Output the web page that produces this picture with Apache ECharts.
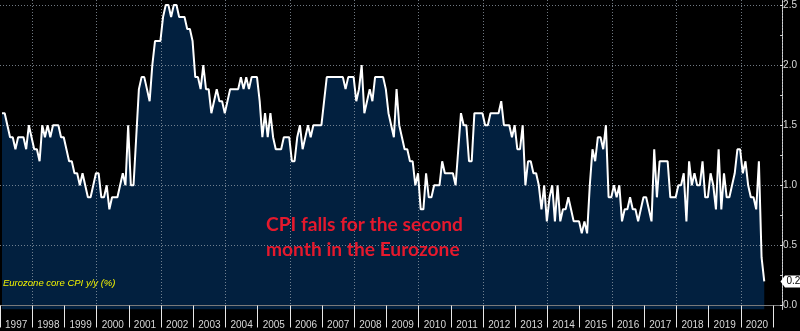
<!DOCTYPE html>
<html>
<head>
<meta charset="utf-8">
<script src="https://cdn.jsdelivr.net/npm/echarts@6/dist/echarts.min.js"></script>
<style>
html,body{margin:0;padding:0;background:#000;}
#chart{width:800px;height:331px;}
</style>
</head>
<body>
<div id="chart"></div>
<script>
// Eurozone core CPI y/y (%), monthly, starting January 1997
const firstYear = 1997;
const firstMonth = 1;
const coreCpi = [
  1.6, 1.6, 1.5, 1.4, 1.4, 1.3, 1.4, 1.4, 1.4, 1.3, 1.5, 1.4, // 1997
  1.3, 1.3, 1.2, 1.5, 1.4, 1.5, 1.4, 1.5, 1.5, 1.5, 1.4, 1.4, // 1998
  1.3, 1.2, 1.2, 1.1, 1.1, 1.0, 1.1, 1.0, 0.9, 0.9, 1.0, 1.1, // 1999
  1.1, 0.9, 0.9, 1.0, 0.8, 0.9, 0.9, 0.9, 1.0, 1.1, 1.0, 1.5, // 2000
  1.0, 1.0, 1.4, 1.8, 1.9, 1.9, 1.8, 1.7, 2.0, 2.2, 2.2, 2.2, // 2001
  2.4, 2.5, 2.5, 2.4, 2.5, 2.5, 2.4, 2.4, 2.4, 2.3, 2.3, 2.2, // 2002
  1.9, 1.9, 1.8, 2.0, 1.8, 1.8, 1.6, 1.7, 1.8, 1.7, 1.7, 1.6, // 2003
  1.7, 1.8, 1.8, 1.8, 1.8, 1.9, 1.8, 1.9, 1.8, 1.9, 1.9, 1.9, // 2004
  1.7, 1.4, 1.6, 1.4, 1.6, 1.4, 1.3, 1.3, 1.3, 1.4, 1.4, 1.4, // 2005
  1.2, 1.2, 1.4, 1.5, 1.3, 1.4, 1.5, 1.4, 1.5, 1.5, 1.5, 1.5, // 2006
  1.7, 1.9, 1.9, 1.9, 1.9, 1.9, 1.9, 1.9, 1.8, 1.9, 1.9, 1.9, // 2007
  1.7, 1.8, 2.0, 1.6, 1.7, 1.8, 1.7, 1.9, 1.9, 1.9, 1.9, 1.8, // 2008
  1.6, 1.5, 1.4, 1.8, 1.5, 1.4, 1.3, 1.3, 1.2, 1.2, 1.0, 1.1, // 2009
  0.8, 0.8, 1.1, 0.9, 0.9, 1.0, 1.0, 1.0, 1.2, 1.1, 1.1, 1.1, // 2010
  1.1, 1.0, 1.3, 1.6, 1.5, 1.5, 1.2, 1.2, 1.6, 1.6, 1.6, 1.6, // 2011
  1.5, 1.5, 1.6, 1.6, 1.6, 1.6, 1.7, 1.5, 1.5, 1.5, 1.4, 1.5, // 2012
  1.3, 1.3, 1.5, 1.0, 1.2, 1.2, 1.1, 1.1, 1.0, 0.8, 1.0, 0.7, // 2013
  0.9, 1.0, 0.7, 1.0, 0.7, 0.8, 0.8, 0.9, 0.8, 0.7, 0.7, 0.7, // 2014
  0.6, 0.7, 0.6, 1.0, 1.3, 1.2, 1.4, 1.4, 1.3, 1.5, 0.9, 0.9, // 2015
  1.0, 0.9, 1.0, 0.7, 0.8, 0.8, 0.9, 0.8, 0.8, 0.7, 0.8, 0.9, // 2016
  0.9, 0.8, 0.7, 1.3, 0.9, 1.2, 1.2, 1.2, 1.2, 0.9, 0.9, 0.9, // 2017
  1.0, 1.0, 1.1, 0.7, 1.2, 1.0, 1.1, 1.0, 1.0, 1.2, 0.9, 0.9, // 2018
  1.1, 1.0, 0.8, 1.3, 0.8, 1.1, 0.9, 0.9, 1.0, 1.1, 1.3, 1.3, // 2019
  1.1, 1.2, 1.0, 0.9, 0.9, 0.8, 1.2, 0.4, 0.2                 // 2020
];
const yearLabels = [1997,1998,1999,2000,2001,2002,2003,2004,2005,2006,2007,2008,
                    2009,2010,2011,2012,2013,2014,2015,2016,2017,2018,2019,2020];
const yTickLabels = [0.0, 0.5, 1.0, 1.5, 2.0, 2.5];
const seriesName = 'Eurozone core CPI y/y (%)';
const noteLines = ['CPI falls for the second', 'month in the Eurozone'];

// observation date within the month (fraction of a month)
const obsInMonth = 0.75;
const points = coreCpi.map((v, i) => {
  const mIdx = (firstMonth - 1) + i;
  return [firstYear + (mIdx + obsInMonth) / 12, v];
});
const lastValue = coreCpi[coreCpi.length - 1];

const xMin = yearLabels[0];
const xMax = 2021.28;
const gridColor = 'rgba(150,160,172,0.75)';
const narrow = "'Liberation Sans Narrow','Liberation Sans',Arial,sans-serif";

const chart = echarts.init(document.getElementById('chart'), null, {renderer: 'canvas'});
chart.setOption({
  backgroundColor: '#000',
  animation: false,
  grid: [
    {left: -2.6, right: 18, top: 0, bottom: 21.5},
    {left: -2.6, right: 18, top: 5, bottom: 25.5}
  ],
  xAxis: [
    {
      gridIndex: 0, type: 'value', min: xMin, max: xMax, interval: 1, z: 3,
      axisLine: {show: true, lineStyle: {color: '#7a7a7a', width: 1}},
      axisTick: {show: true, length: 22, lineStyle: {color: '#e8e8e8', width: 1}},
      splitLine: {show: true, lineStyle: {color: ['transparent', gridColor], type: [1, 2], width: 1}},
      axisLabel: {
        show: true, showMaxLabel: false, margin: 11,
        formatter: v => yearLabels.indexOf(v) >= 0 ? '{y|' + v + '}' : '',
        rich: {y: {color: '#d8d8d8', fontSize: 10, fontFamily: narrow, padding: [0, 0, 0, 32.3]}}
      }
    },
    {
      gridIndex: 1, type: 'value', min: xMin, max: xMax, show: false
    }
  ],
  yAxis: [
    {
      gridIndex: 0, type: 'value', position: 'right',
      min: -0.0333, max: 2.5416,
      axisLine: {show: true, lineStyle: {color: '#d0d0d0', width: 1}},
      axisTick: {show: false}, axisLabel: {show: false}, splitLine: {show: false}
    },
    {
      gridIndex: 1, type: 'value', position: 'right', z: 3,
      min: yTickLabels[0], max: yTickLabels[yTickLabels.length - 1], interval: 0.5,
      axisLine: {show: false},
      axisTick: {show: true, length: 3, lineStyle: {color: '#e0e0e0'}},
      minorTick: {show: true, splitNumber: 2, length: 2, lineStyle: {color: '#d0d0d0'}},
      splitLine: {show: true, lineStyle: {color: gridColor, type: [1, 2], width: 1}},
      axisLabel: {
        show: true, margin: 3, color: '#d8d8d8', fontSize: 10, fontFamily: narrow,
        formatter: v => v.toFixed(1)
      }
    }
  ],
  series: [
    {
      name: seriesName + ' area', type: 'line', xAxisIndex: 0, yAxisIndex: 0, z: 2,
      data: points, showSymbol: false, symbol: 'none',
      lineStyle: {width: 0, opacity: 0},
      areaStyle: {color: '#02203f', opacity: 1, origin: 'start'}
    },
    {
      name: seriesName, type: 'line', xAxisIndex: 0, yAxisIndex: 0, z: 5,
      data: points, showSymbol: false, symbol: 'none',
      lineStyle: {color: '#ffffff', width: 2}
    }
  ]
});

// last-value tag on the right axis, placed through the axis scale
const tagY = chart.convertToPixel({yAxisIndex: 0}, lastValue);
const axisX = chart.convertToPixel({xAxisIndex: 0}, xMax);
chart.setOption({
  graphic: [
    {
      id: 'seriesLabel', type: 'text', left: 3, top: 278, z: 10,
      style: {text: seriesName, fill: '#f2f200', fontSize: 9.5, fontStyle: 'italic', fontFamily: narrow}
    },
    {
      id: 'note', type: 'text', left: 266, top: 212, z: 10,
      style: {text: noteLines.join('\n'), fill: '#e5192d', fontSize: 19.2, fontWeight: 'bold',
              fontFamily: "Lato, 'Open Sans', sans-serif", lineHeight: 25}
    },
    {
      id: 'tagBox', type: 'polygon', z: 20,
      shape: {points: [[axisX - 1.5, tagY], [axisX + 3, tagY - 6], [800, tagY - 6], [800, tagY + 6], [axisX + 3, tagY + 6]]},
      style: {fill: '#ffffff'}
    },
    {
      id: 'tagText', type: 'text', z: 21, x: axisX + 4.5, y: tagY,
      style: {text: lastValue.toFixed(1), fill: '#000', fontSize: 10, fontFamily: narrow, verticalAlign: 'middle'}
    }
  ]
});
</script>
</body>
</html>
